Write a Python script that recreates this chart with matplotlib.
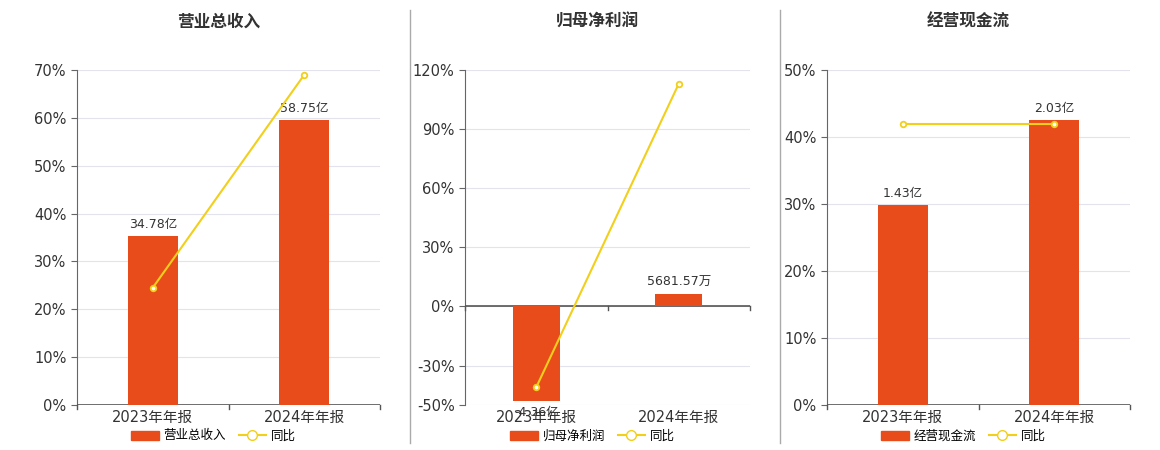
import matplotlib
matplotlib.use("Agg")
import matplotlib.pyplot as plt
from matplotlib.lines import Line2D
from matplotlib.patches import Patch

plt.rcParams['font.family'] = ['DejaVu Sans', 'Noto Sans CJK SC']

categories = ["2023年年报", "2024年年报"]
titles = ["营业总收入", "归母净利润", "经营现金流"]
bar_values = [[34.78, 58.75], [-4.36, 0.568157], [1.43, 2.03]]
bar_labels = [["34.78亿", "58.75亿"], ["-4.36亿", "5681.57万"], ["1.43亿", "2.03亿"]]
yoy = [[24.5, 69.0], [-41.0, 113.0], [42.0, 42.0]]
pct_ticks = [[0, 10, 20, 30, 40, 50, 60, 70],
             [-50, -30, 0, 30, 60, 90, 120],
             [0, 10, 20, 30, 40, 50]]
bar_lims = [(0, 69.1), None, (0, 2.39)]

BAR = "#E84C1B"
LINE = "#F2CF1A"
GRID = "#E3E3EE"

fig = plt.figure(figsize=(11.6, 4.5), dpi=100)
W, H = 1160, 450
panels = [(77, 380), (465, 750), (827, 1130)]
top, bot = 70, 405

for i, (x0, x1) in enumerate(panels):
    ax = fig.add_axes([x0 / W, 1 - bot / H, (x1 - x0) / W, (bot - top) / H])
    ticks = pct_ticks[i]
    ax.set_ylim(ticks[0], ticks[-1])
    ax.set_xlim(-0.5, 1.5)
    ax.set_yticks(ticks)
    ax.set_yticklabels([f"{t}%" for t in ticks], fontsize=10.5, color="#333")
    ax.grid(axis='y', color=GRID, lw=0.8)
    ax.set_axisbelow(True)
    for s in ["top", "right"]:
        ax.spines[s].set_visible(False)
    ax.spines["left"].set_color("#666")
    ax.spines["bottom"].set_visible(False)
    ax.tick_params(axis='y', length=4, color="#666")
    ax.tick_params(axis='x', length=0)
    ax.set_xticks([0, 1])
    ax.set_xticklabels(categories, fontsize=10.5, color="#333")

    bx = ax.twinx()
    if i == 1:
        scale = 4.36 / 48.0
        lo, hi = -50 * scale, 120 * scale
    else:
        lo, hi = bar_lims[i]
    bx.set_ylim(lo, hi)
    bx.set_axis_off()
    bx.set_xlim(-0.5, 1.5)
    bars = bx.bar([0, 1], bar_values[i], width=0.33, color=BAR, zorder=2)
    for j, b in enumerate(bars):
        v = bar_values[i][j]
        va = 'bottom' if v >= 0 else 'top'
        off = (hi - lo) * 0.015 * (1 if v >= 0 else -1)
        bx.text(j, v + off, bar_labels[i][j], ha='center', va=va, fontsize=9, color="#333")
    ax.axhline(0, color="#555", lw=1.2, zorder=3)
    for xt in [-0.5, 0.5, 1.5]:
        ax.plot([xt, xt], [0, -(ticks[-1] - ticks[0]) * 0.012], color="#555", lw=1, clip_on=False, zorder=3)

    lx = ax.twinx()
    lx.set_ylim(ticks[0], ticks[-1])
    lx.set_xlim(-0.5, 1.5)
    lx.set_axis_off()
    lx.plot([0, 1], yoy[i], color=LINE, lw=1.5, marker='o', ms=4,
            mfc='white', mec=LINE, mew=1.3, zorder=4)

    cx = (x0 + x1) / 2
    fig.text((cx - 10) / W, 1 - 22 / H, titles[i], ha='center', va='center',
             fontsize=12, fontweight='bold', color="#333")
    handles = [Patch(facecolor=BAR, edgecolor=BAR),
               Line2D([0], [0], color=LINE, lw=1.5, marker='o', ms=7, mfc='white', mec=LINE)]
    fig.legend(handles, [titles[i], "同比"], loc='center',
               bbox_to_anchor=((cx - 15) / W, 1 - 436 / H), ncol=2, frameon=False,
               fontsize=9, handlelength=2.2, columnspacing=1.0, handletextpad=0.4)

for xs in [410, 780]:
    fig.add_artist(Line2D([xs / W, xs / W], [1 - 443 / H, 1 - 10 / H], color="#AAA", lw=1))

fig.savefig("out.png", dpi=100)
